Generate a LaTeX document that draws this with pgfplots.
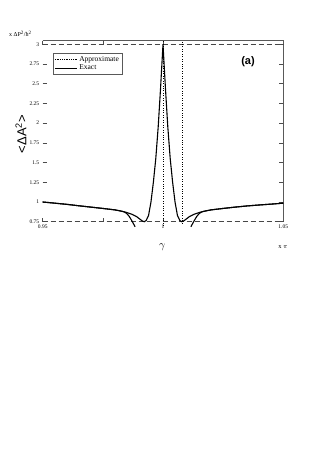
\documentclass[border=0pt]{standalone}
\usepackage{pgfplots}
\pgfplotsset{compat=1.18}
\usepackage{fontspec}
\setmainfont{Liberation Serif}
\setsansfont{Liberation Sans}
\begin{document}
\begin{tikzpicture}
\path[use as bounding box] (0pt,0pt) rectangle (319pt,450pt);
\begin{axis}[
  at={(42.7pt,228.3pt)}, anchor=south west,
  scale only axis, width=240.6pt, height=181pt,
  xmin=0.95, xmax=1.05, ymin=0.75, ymax=3.045,
  clip=false,
  axis line style={draw=none},
  xtick={0.95,0.975,1,1.05}, xticklabels={0.95,,1,1.05},
  ytick={0.75,1,1.25,1.5,1.75,2,2.25,2.5,2.75,3},
  yticklabels={0.75,1,1.25,1.5,1.75,2,2.25,2.5,2.75,3},
  tick style={gray!60!black, thin},
  major tick length=4pt,
  tick label style={font=\fontsize{5.5}{6}\selectfont},
  /pgf/number format/assume math mode=true,
  legend style={at={(0.044,0.93)}, anchor=north west, draw=gray!70!black,
    font=\fontsize{7.5}{8}\selectfont, inner sep=1pt, row sep=-2pt},
  legend cell align=left,
  legend image code/.code={\draw[#1] (0pt,0pt) -- (22pt,0pt);},
]
\addlegendimage{black, densely dotted, thick}\addlegendentry{Approximate}
\addlegendimage{black, thick}\addlegendentry{Exact}
\draw[gray!70!black, thin] (rel axis cs:0,1) -- (rel axis cs:1,1) -- (rel axis cs:1,0);
% dashed bounds
\addplot[forget plot, gray!55!black, line width=1.1pt, dash pattern=on 5pt off 3pt] coordinates {(0.95,3) (1.05,3)};
\addplot[forget plot, gray!55!black, line width=1.1pt, dash pattern=on 5pt off 3pt] coordinates {(0.95,0.75) (1.05,0.75)};
% vertical dotted lines
\addplot[forget plot, black, dotted, line width=0.45pt] coordinates {(1,0.70) (1,3.045)};
\addplot[forget plot, black, dotted, line width=0.45pt] coordinates {(1.0078,0.73) (1.0078,3.045)};
% approximate
\addplot[forget plot, black, line width=1.1pt] coordinates {
(0.950,1.000) (0.955,0.985) (0.960,0.970) (0.965,0.952) (0.970,0.935) (0.975,0.918)
(0.980,0.900) (0.983,0.882) (0.984,0.872) (0.985,0.852) (0.986,0.815) (0.987,0.765)
(0.9878,0.720) (0.9884,0.686)};
\addplot[forget plot, black, line width=1.1pt] coordinates {
(1.0116,0.686) (1.0122,0.720) (1.013,0.765) (1.014,0.815) (1.015,0.852) (1.016,0.872)
(1.017,0.882) (1.020,0.900) (1.025,0.918) (1.030,0.935) (1.035,0.950) (1.040,0.962)
(1.045,0.973) (1.050,0.985)};
% exact
\addplot[forget plot, black, line width=1.1pt] coordinates {
(0.950,1.000) (0.955,0.985) (0.960,0.970) (0.965,0.952) (0.970,0.935) (0.975,0.918)
(0.980,0.900) (0.983,0.882) (0.985,0.866) (0.987,0.845) (0.989,0.815) (0.9905,0.780)
(0.9915,0.757) (0.9922,0.750) (0.993,0.765) (0.994,0.830) (0.995,1.000) (0.996,1.250)
(0.997,1.550) (0.998,1.950) (0.999,2.450) (1.000,3.000) (1.001,2.450) (1.002,1.950)
(1.003,1.550) (1.004,1.250) (1.005,1.000) (1.006,0.830) (1.007,0.765) (1.0078,0.750)
(1.0085,0.757) (1.0095,0.780) (1.011,0.815) (1.013,0.845) (1.015,0.866) (1.017,0.882)
(1.020,0.900) (1.025,0.918) (1.030,0.935) (1.035,0.950) (1.040,0.962) (1.045,0.973)
(1.050,0.985)};
\end{axis}
\node[anchor=south west, font=\fontsize{6}{7}\selectfont, inner sep=0pt] at (9pt,413pt) {x ΔP\textsuperscript{2}/ħ\textsuperscript{2}};
\node[rotate=90, font=\sffamily\fontsize{13}{14}\selectfont] at (21pt,316pt) {<ΔA\textsuperscript{2}>};
\node[font=\sffamily\bfseries\fontsize{11}{12}\selectfont] at (248pt,388.5pt) {(a)};
\node[font=\fontsize{11}{12}\selectfont] at (162.3pt,203pt) {$\gamma$};
\node[font=\fontsize{6.5}{7}\selectfont] at (283pt,203pt) {x $\pi$};
\end{tikzpicture}
\end{document}
